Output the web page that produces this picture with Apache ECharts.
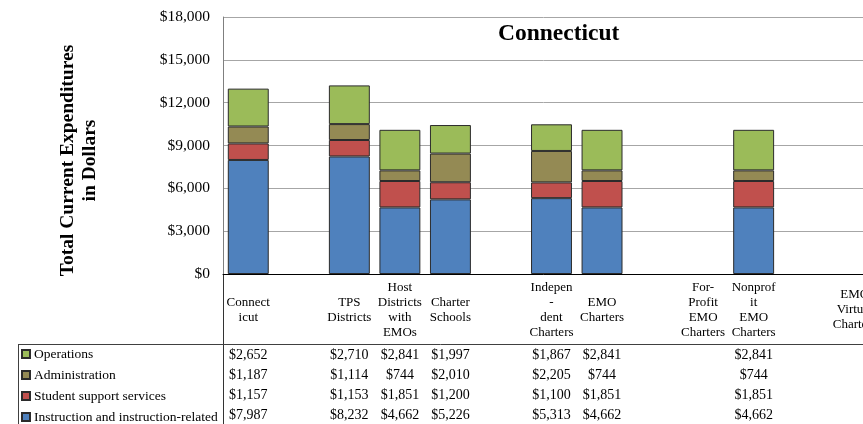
<!DOCTYPE html>
<html>
<head>
<meta charset="utf-8">
<script src="https://cdn.jsdelivr.net/npm/echarts@6/dist/echarts.min.js"></script>
<style>
  html, body { margin: 0; padding: 0; background: #fff; }
  #chart { width: 863px; height: 424px; }
</style>
</head>
<body>
<div id="chart"></div>
<script>
// categories (empty ones are the spacer columns of the original chart)
const categories = [
  'Connect\nicut', '', 'TPS\nDistricts', 'Host\nDistricts\nwith\nEMOs', 'Charter\nSchools', '',
  'Indepen\n-\ndent\nCharters', 'EMO\nCharters', '', 'For-\nProfit\nEMO\nCharters',
  'Nonprof\nit\nEMO\nCharters', '', 'EMO\nVirtual\nCharters'
]

const instruction = [7987, null, 8232, 4662, 5226, null, 5313, 4662, null, null, 4662, null, null]
const studentSupport = [1157, null, 1153, 1851, 1200, null, 1100, 1851, null, null, 1851, null, null]
const administration = [1187, null, 1114, 744, 2010, null, 2205, 744, null, null, 744, null, null]
const operations = [2652, null, 2710, 2841, 1997, null, 1867, 2841, null, null, 2841, null, null]

const yTicks = [0, 3000, 6000, 9000, 12000, 15000, 18000]

const serif = '"Times New Roman", "Liberation Serif", "DejaVu Serif", serif'

function money (v) {
  if (v === null || v === undefined) return ''
  return '$' + String(v).replace(/\B(?=(\d{3})+(?!\d))/g, ',')
}

// table rows, top to bottom
const tableRows = [
  { name: 'Operations', data: operations, color: '#9BBB59', margin: 81 },
  { name: 'Administration', data: administration, color: '#948A54', margin: 101 },
  { name: 'Student support services', data: studentSupport, color: '#C0504D', margin: 121 },
  { name: 'Instruction and instruction-related', data: instruction, color: '#4F81BD', margin: 141 }
]

const xAxes = [{
  type: 'category',
  data: categories,
  position: 'bottom',
  axisLine: { lineStyle: { color: '#000', width: 1 } },
  axisTick: { show: false },
  axisLabel: {
    interval: 0,
    margin: 36,
    verticalAlign: 'middle',
    fontFamily: serif,
    fontSize: 13,
    lineHeight: 15,
    color: '#000'
  }
}]
tableRows.forEach(function (row) {
  xAxes.push({
    type: 'category',
    data: categories,
    position: 'bottom',
    axisLine: { show: false },
    axisTick: { show: false },
    splitLine: { show: false },
    axisLabel: {
      interval: 0,
      margin: row.margin,
      verticalAlign: 'middle',
      fontFamily: serif,
      fontSize: 14,
      color: '#000',
      formatter: function (v, i) { return money(row.data[i]) }
    }
  })
})

const stackOrder = [tableRows[3], tableRows[2], tableRows[1], tableRows[0]]

const option = {
  animation: false,
  backgroundColor: '#fff',
  title: {
    text: 'Connecticut',
    left: 498,
    top: 22,
    padding: 0,
    textStyle: { fontFamily: serif, fontSize: 23.5, fontWeight: 'bold', color: '#000' }
  },
  legend: {
    orient: 'vertical',
    left: 21,
    top: 347,
    padding: 0,
    itemWidth: 8,
    itemHeight: 8,
    itemGap: 7,
    icon: 'rect',
    data: tableRows.map(function (r) { return r.name }),
    textStyle: { fontFamily: serif, fontSize: 13.5, lineHeight: 13, color: '#000', padding: [0, 0, 0, -1] }
  },
  grid: { left: 223, top: 17, right: -17, bottom: 150, outerBoundsMode: 'none', containLabel: false },
  xAxis: xAxes,
  yAxis: {
    type: 'value',
    min: yTicks[0],
    max: yTicks[yTicks.length - 1],
    interval: 3000,
    name: 'Total Current Expenditures\nin Dollars',
    nameLocation: 'middle',
    nameRotate: 90,
    nameGap: 122,
    nameTextStyle: {
      fontFamily: serif, fontSize: 19.5, fontWeight: 'bold', color: '#000',
      lineHeight: 22, padding: [0, 30, 0, 0]
    },
    axisLine: { show: true, lineStyle: { color: '#7F7F7F' } },
    axisTick: { show: false },
    splitLine: { lineStyle: { color: '#A6A6A6' } },
    axisLabel: {
      margin: 13,
      fontFamily: serif,
      fontSize: 15.5,
      color: '#000',
      formatter: money
    }
  },
  series: stackOrder.map(function (row) {
    return {
      name: row.name,
      type: 'bar',
      stack: 'total',
      barCategoryGap: '19%',
      data: row.data,
      itemStyle: { color: row.color, borderColor: '#2b2b2b', borderWidth: 1 }
    }
  }),
  // table borders
  graphic: [
    { type: 'line', shape: { x1: 223.5, y1: 274, x2: 223.5, y2: 424 }, style: { stroke: '#333', lineWidth: 1 } },
    { type: 'line', shape: { x1: 18, y1: 344.5, x2: 863, y2: 344.5 }, style: { stroke: '#404040', lineWidth: 1 } },
    { type: 'line', shape: { x1: 18.5, y1: 344.5, x2: 18.5, y2: 424 }, style: { stroke: '#404040', lineWidth: 1 } }
  ]
}

const chart = echarts.init(document.getElementById('chart'))
chart.setOption(option)
</script>
</body>
</html>
